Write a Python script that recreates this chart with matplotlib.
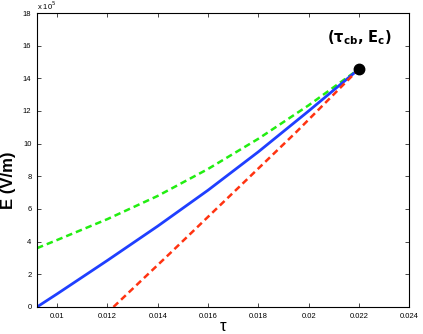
import matplotlib
matplotlib.use("Agg")
from matplotlib import pyplot as plt

plt.rcParams['font.family'] = ['Liberation Sans', 'DejaVu Sans']

# valeurs (E en unités de 10^5 V/m)
tau_blue = [0.0092, 0.0100, 0.0120, 0.0140, 0.0160, 0.0180, 0.0200, 0.0220]
E_blue = [0.0, 0.8, 2.85, 4.95, 7.15, 9.5, 12.0, 14.57]

tau_green = [0.0092, 0.0100, 0.0120, 0.0140, 0.0160, 0.0180, 0.0200, 0.0220]
E_green = [3.6, 4.1, 5.38, 6.8, 8.45, 10.3, 12.35, 14.57]

tau_red = [0.01224, 0.0145, 0.0169, 0.0195, 0.0220]
E_red = [0.0, 3.3, 6.85, 10.7, 14.57]

tau_cb = 0.022
E_c = 14.6

xticks = [0.01, 0.012, 0.014, 0.016, 0.018, 0.02, 0.022, 0.024]
xticklabels = ['0.01', '0.012', '0.014', '0.016', '0.018', '0.02', '0.022', '0.024']
yticks = [0, 2, 4, 6, 8, 10, 12, 14, 16, 18]

fig = plt.figure(figsize=(4.23, 3.34), dpi=100)
ax = fig.add_axes([0.0875, 0.081, 0.88, 0.88])

ax.plot(tau_green, E_green, color='#22ee11', lw=1.8, dashes=(2.6, 1.6))
ax.plot(tau_blue, E_blue, color='#1f3fff', lw=2.0)
ax.plot(tau_red, E_red, color='#ff3311', lw=1.8, dashes=(2.6, 1.6))
ax.plot([tau_cb], [E_c], marker='o', color='black', markersize=7.5)

# annotation du point final
ax.text(tau_cb, 16.5, r'$\mathbf{(\tau_{cb},\, E_c)}$', fontsize=10.5, ha='center', va='center')

ax.set_xlim(0.0092, 0.024)
ax.set_ylim(0, 18)
ax.set_xticks(xticks)
ax.set_xticklabels(xticklabels)
ax.set_yticks(yticks)
ax.tick_params(direction='in', top=True, right=True, labelsize=5.5, length=3, width=0.5, pad=4)
for s in ax.spines.values():
    s.set_linewidth(0.8)

ax.set_xlabel('τ', fontsize=12)
ax.xaxis.label.set_va('center')
ax.xaxis.set_label_coords(0.5, -0.068)
ax.set_ylabel('E (V/m)', fontsize=12, fontweight='bold')
ax.yaxis.set_label_coords(-0.056, 0.43)
ax.text(0.0, 1.005, r'x 10$^5$', transform=ax.transAxes, fontsize=5.5, ha='left', va='bottom')

plt.savefig('out.png', dpi=100)
